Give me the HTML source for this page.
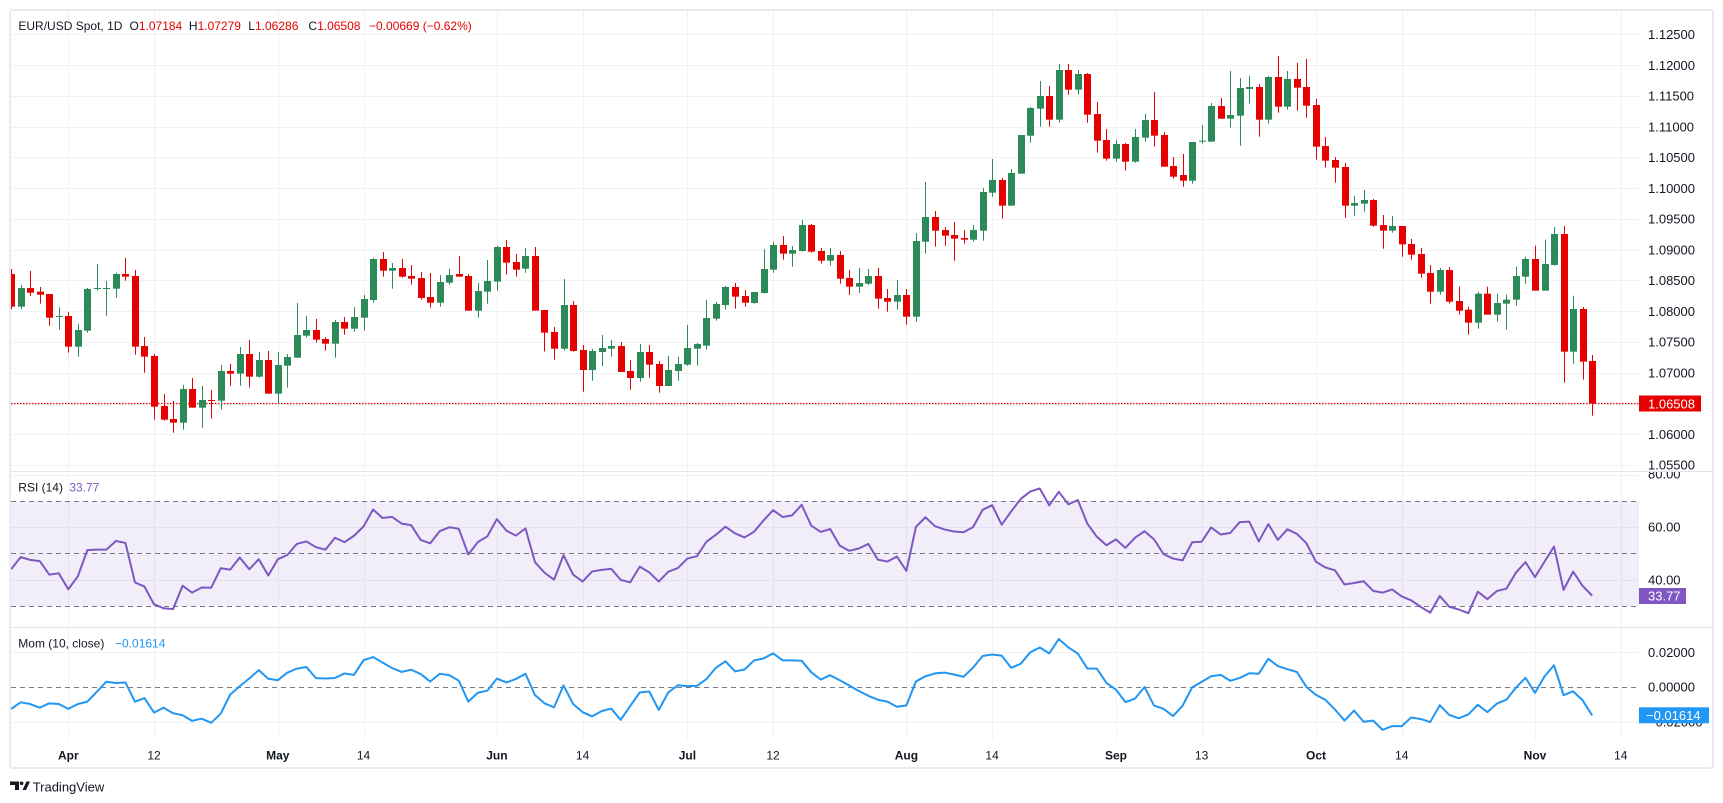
<!DOCTYPE html>
<html><head><meta charset="utf-8">
<style>
html,body{margin:0;padding:0;background:#fff;}
svg{display:block;font-family:"Liberation Sans",sans-serif;}
</style></head><body>
<svg id="c" width="1723" height="803" viewBox="0 0 1723 803" xmlns="http://www.w3.org/2000/svg">
<defs>
<clipPath id="cp"><rect x="11" y="11" width="1628" height="460"/></clipPath>
<clipPath id="cr"><rect x="11" y="472" width="1628" height="155"/></clipPath>
<clipPath id="cm"><rect x="11" y="628" width="1628" height="111"/></clipPath>
<clipPath id="cra"><rect x="1639" y="472" width="80" height="155"/></clipPath>
</defs>
<rect width="1723" height="803" fill="#fff"/>
<g id="grid"></g>
<rect x="11" y="501" width="1628" height="105" fill="#7e57c2" fill-opacity="0.1"/>
<g stroke="#787b86" stroke-width="1" stroke-dasharray="5 4" fill="none">
<line x1="11" x2="1639" y1="501.5" y2="501.5"/>
<line x1="11" x2="1639" y1="553.5" y2="553.5"/>
<line x1="11" x2="1639" y1="606.5" y2="606.5"/>
<line x1="11" x2="1639" y1="687.5" y2="687.5"/>
</g>
<line x1="11" x2="1639" y1="403.5" y2="403.5" stroke="#e60000" stroke-width="1.2" stroke-dasharray="1.5 1.5"/>
<g id="candles" clip-path="url(#cp)"></g>
<g clip-path="url(#cr)"><polyline id="rsi" fill="none" stroke="#7e57c2" stroke-width="2" stroke-linejoin="round"/></g>
<g clip-path="url(#cm)"><polyline id="mom" fill="none" stroke="#2196f3" stroke-width="2" stroke-linejoin="round"/></g>
<line x1="11" x2="1712" y1="471.5" y2="471.5" stroke="#e0e3eb"/>
<line x1="11" x2="1712" y1="627.5" y2="627.5" stroke="#e0e3eb"/>
<rect x="10" y="10" width="1703" height="758" rx="2" fill="none" stroke="#e9ebf0" stroke-width="2"/>

<g font-size="12" fill="#131722">
<text x="18.4" y="30">EUR/USD Spot, 1D</text>
<text x="129.5" y="30">O<tspan fill="#e60000">1.07184</tspan></text>
<text x="188.9" y="30">H<tspan fill="#e60000">1.07279</tspan></text>
<text x="248.3" y="30">L<tspan fill="#e60000">1.06286</tspan></text>
<text x="308.4" y="30">C<tspan fill="#e60000">1.06508</tspan></text>
<text x="369" y="30" fill="#e60000">−0.00669 (−0.62%)</text>
<text x="18.3" y="491.6">RSI (14)</text>
<text x="69.3" y="491.6" fill="#7e57c2">33.77</text>
<text x="18.3" y="647.6">Mom (10, close)</text>
<text x="115" y="647.6" fill="#2196f3">−0.01614</text>
</g>

<g font-size="13" fill="#131722">
<text x="1648" y="39">1.12500</text>
<text x="1648" y="69.8">1.12000</text>
<text x="1648" y="100.5">1.11500</text>
<text x="1648" y="131.3">1.11000</text>
<text x="1648" y="162.1">1.10500</text>
<text x="1648" y="192.9">1.10000</text>
<text x="1648" y="223.6">1.09500</text>
<text x="1648" y="254.4">1.09000</text>
<text x="1648" y="285.2">1.08500</text>
<text x="1648" y="315.9">1.08000</text>
<text x="1648" y="346.7">1.07500</text>
<text x="1648" y="377.5">1.07000</text>
<text x="1648" y="439">1.06000</text>
<text x="1648" y="469.5">1.05500</text>
<g clip-path="url(#cra)"><text x="1648" y="478.5">80.00</text></g>
<text x="1648" y="531.7">60.00</text>
<text x="1648" y="584.7">40.00</text>
<text x="1648" y="656.9">0.02000</text>
<text x="1648" y="691.7">0.00000</text>
<text x="1648" y="726.7">−0.02000</text>
</g>
<rect x="1639" y="395.5" width="62" height="16" fill="#e60000"/>
<text x="1648" y="408.3" font-size="13" fill="#fff">1.06508</text>
<rect x="1639" y="588" width="47" height="16" fill="#7e57c2"/>
<text x="1648" y="600.7" font-size="13" fill="#fff">33.77</text>
<rect x="1639" y="707.3" width="70" height="16" fill="#2196f3"/>
<text x="1646" y="720" font-size="13" fill="#fff">−0.01614</text>

<g font-size="12" fill="#131722" text-anchor="middle">
<text x="68.3" y="759.3" font-weight="bold">Apr</text>
<text x="154" y="759.3">12</text>
<text x="277.8" y="759.3" font-weight="bold">May</text>
<text x="363.5" y="759.3">14</text>
<text x="496.9" y="759.3" font-weight="bold">Jun</text>
<text x="582.6" y="759.3">14</text>
<text x="687.4" y="759.3" font-weight="bold">Jul</text>
<text x="773" y="759.3">12</text>
<text x="906.4" y="759.3" font-weight="bold">Aug</text>
<text x="992.1" y="759.3">14</text>
<text x="1116" y="759.3" font-weight="bold">Sep</text>
<text x="1201.6" y="759.3">13</text>
<text x="1316" y="759.3" font-weight="bold">Oct</text>
<text x="1401.7" y="759.3">14</text>
<text x="1535" y="759.3" font-weight="bold">Nov</text>
<text x="1620.7" y="759.3">14</text>
</g>

<g fill="#131722">
<rect x="10" y="781.5" width="9" height="3.5"/>
<rect x="15" y="781.5" width="4" height="8.5"/>
<circle cx="21.6" cy="783.3" r="1.8"/>
<polygon points="22.5,790 26,790 30,781.5 26.5,781.5"/>
</g>
<text x="32.7" y="791.4" font-size="13" fill="#131722">TradingView</text>
</svg>
<script>
(function(){
const NS="http://www.w3.org/2000/svg";
function el(tag,attrs,parent){const e=document.createElementNS(NS,tag);for(const k in attrs)e.setAttribute(k,attrs[k]);parent.appendChild(e);return e;}
const X=i=>68.3+9.524*i;
const P=y=>1.125-(y-34.3)/6154;
const UP="#2b8a57",DN="#e60000";
const G=[
[-6,220,[[0,162,260,147,268],[1,204,260,195,268],[0,204,218,153,228],[0,215,224,201,251],[0,222,293,222,317],[1,288,290,262,329],[0,288,380,276,398],[1,330,380,312,410],[1,207,332,204,338],[1,204,207,132,212],[1,204,206,183,287],[1,162,206,158,233],[0,162,170,114,182],[0,168,380,150,404],[0,378,410,351,458],[0,408,560,402,599],[0,558,599,522,602],[0,597,608,543,638],[1,507,608,495,629],[0,507,563,474,563],[1,540,563,498,623],[0,540,542,510,596],[1,453,542,435,569],[0,453,461,432,497],[1,402,461,381,497],[0,402,470,360,503],[1,420,470,396,473],[0,420,521,393,521],[1,435,521,396,549],[1,411,437,402,503]]],
[24,220,[[1,345,413,249,413],[1,330,347,288,353],[0,330,359,297,368],[0,357,371,351,392],[1,306,371,300,413],[0,306,326,291,344],[1,291,326,261,335],[1,237,293,225,332],[1,117,240,114,248],[0,117,152,96,170],[1,144,152,129,206],[0,144,170,117,173],[0,168,176,135,194],[0,174,234,156,239],[0,231,248,159,263],[1,186,248,165,260],[1,165,188,147,194],[0,162,170,108,170],[0,168,272,162,272],[1,213,272,189,293],[1,183,215,120,251],[1,81,185,78,212],[0,81,128,60,164],[0,126,149,102,170],[1,108,146,84,158],[0,108,272,81,272],[0,270,338,270,395],[0,336,386,321,419],[1,255,386,177,392]]],
[53,180,[[0,375,513,363,515],[0,510,570,495,635],[1,513,570,507,602],[1,504,516,465,558],[1,498,506,480,530],[0,498,576,486,576],[0,573,594,540,629],[1,516,594,492,605],[0,516,554,495,593],[0,552,618,543,638],[1,570,618,528,618],[1,552,573,531,602],[1,504,554,435,557],[1,492,506,489,557],[1,414,497,360,509],[1,372,416,366,422],[1,321,375,318,389],[0,321,350,309,386],[0,348,368,330,380],[1,336,369,336,371],[1,267,339,207,341],[1,195,269,186,278],[0,195,221,168,239],[1,210,221,198,260],[1,135,213,120,215],[0,135,215,132,218],[0,213,242,204,251],[1,225,242,204,257],[0,225,296,213,311]]],
[82,40,[[0,714,740,690,765],[1,729,740,684,759],[1,708,731,687,735],[0,708,776,684,806],[0,774,785,747,815],[1,765,785,720,809],[0,765,830,747,854],[1,603,830,579,845],[1,531,605,426,641],[0,531,572,513,620],[0,570,587,561,617],[0,585,596,546,662],[0,594,599,570,611],[1,570,599,555,605],[1,456,572,444,602],[1,420,458,357,470],[0,420,497,414,536],[1,399,497,387,497],[1,285,401,285,401],[1,204,287,201,308],[1,168,206,123,260],[0,168,239,138,260],[1,90,239,72,248],[0,90,149,72,164],[1,102,149,90,164],[0,102,224,99,248],[0,222,302,186,338],[0,300,356,267,362],[1,312,356,300,365]]],
[111,40,[[0,312,365,309,392],[1,291,365,267,368],[1,240,293,222,305],[0,240,287,156,320],[0,285,380,276,380],[0,378,410,351,416],[0,405,422,342,440],[1,306,422,306,431],[1,302,305,255,311],[1,198,305,189,305],[0,198,236,174,236],[1,225,236,93,263],[1,144,227,114,317],[1,141,147,108,191],[0,141,239,132,290],[1,111,239,108,251],[0,111,200,48,218],[1,117,200,93,209],[0,117,143,69,212],[0,141,197,57,233],[0,195,320,177,359],[0,318,362,291,383],[0,360,383,351,428],[0,381,497,369,533],[1,489,497,468,527],[1,480,491,450,515],[0,480,557,477,560],[0,555,572,525,626],[1,558,572,528,578]]],
[140,0,[[0,678,733,678,770],[0,732,764,717,779],[0,762,821,744,833],[0,819,875,795,911],[1,810,875,804,884],[0,810,905,801,911],[0,903,932,860,944],[0,929,968,920,1004],[1,881,968,875,986],[0,881,944,860,944],[1,909,944,881,965],[1,899,911,884,989],[1,828,899,800,917],[1,777,830,770,851],[0,777,872,737,872],[1,792,872,719,872],[1,702,795,681,797],[0,702,1055,678,1148],[1,927,1055,887,1091],[0,927,1085,921,1139],[0,1083,1211,1065,1247]]]
];
const bars={};
G.forEach(([s,y0,d])=>d.forEach((b,k)=>{const i=s+k;bars[i]={up:b[0]===1,t:y0+b[1]/3,b:y0+b[2]/3,wt:y0+b[3]/3,wb:y0+b[4]/3};}));
// grid
const grid=document.getElementById('grid');const GC="#eff1f5";
for(let k=0;k<=14;k++){const y=Math.round(34.3+k*30.77)+0.5;el('line',{x1:11,x2:1639,y1:y,y2:y,stroke:GC},grid);}
[80,60,40].forEach(v=>{const y=Math.round(606-(v-30)*2.625)+0.5;el('line',{x1:11,x2:1639,y1:y,y2:y,stroke:GC},grid);});
[652.2,721.8].forEach(v=>{const y=Math.round(v)+0.5;el('line',{x1:11,x2:1639,y1:y,y2:y,stroke:GC},grid);});
[0,9,22,31,45,54,65,74,88,97,110,119,131,140,154,163].forEach(i=>{const x=Math.round(X(i))+0.5;el('line',{x1:x,x2:x,y1:11,y2:739,stroke:GC},grid);});
// candles
const cg=document.getElementById('candles');
for(let i=-6;i<=160;i++){const b=bars[i];const xc=Math.round(X(i));const col=b.up?UP:DN;
el('rect',{x:xc,y:b.wt.toFixed(2),width:1,height:(b.wb-b.wt).toFixed(2),fill:col},cg);
el('rect',{x:xc-3,y:b.t.toFixed(2),width:7,height:Math.max(1,b.b-b.t).toFixed(2),fill:col},cg);}
// closes
const c={};const pre=[229.2,233.8,232.4,221.5,259.9,255.7,269.2,269.7,237.3,271.4];
pre.forEach((y,k)=>{c[-16+k]=P(y);});
for(let i=-6;i<=160;i++){const b=bars[i];c[i]=P(b.up?b.t:b.b);}
function rsiS(r,S){let ag=r*S,al=(1-r)*S;const o={};for(let i=-15;i<=160;i++){const ch=c[i]-c[i-1];const g=ch>0?ch:0,l=ch<0?-ch:0;ag=(ag*13+g)/14;al=(al*13+l)/14;o[i]=(ag+al)===0?50:100*ag/(ag+al);}return o;}
const T={"-6":44.1,"-5":48.4,"-4":47.6,"-3":47.1,"-2":41.9,"-1":42.2,"0":36.6,"1":41.2,"2":51.3,"3":51.3,"4":51.3,"5":54.6,"6":54.4,"7":38.9,"8":37.4,"9":30.8,"10":29.4,"11":28.9,"12":37.6};
let best=null,be=1e18;
for(let r=0.02;r<0.99;r+=0.01){for(let S=0.001;S<0.012;S+=0.0002){const o=rsiS(r,S);let e=0;for(const k in T){const d=o[+k]-T[k];e+=d*d;}if(e<be){be=e;best=o;}}}
const rp=[];for(let i=-6;i<=160;i++){rp.push(X(i).toFixed(2)+","+(606-(best[i]-30)*2.625).toFixed(2));}
document.getElementById('rsi').setAttribute('points',rp.join(' '));
const mp=[];for(let i=-6;i<=160;i++){const m=c[i]-c[i-10];mp.push(X(i).toFixed(2)+","+(687-m*1740).toFixed(2));}
document.getElementById('mom').setAttribute('points',mp.join(' '));
})();
</script>
</body></html>
